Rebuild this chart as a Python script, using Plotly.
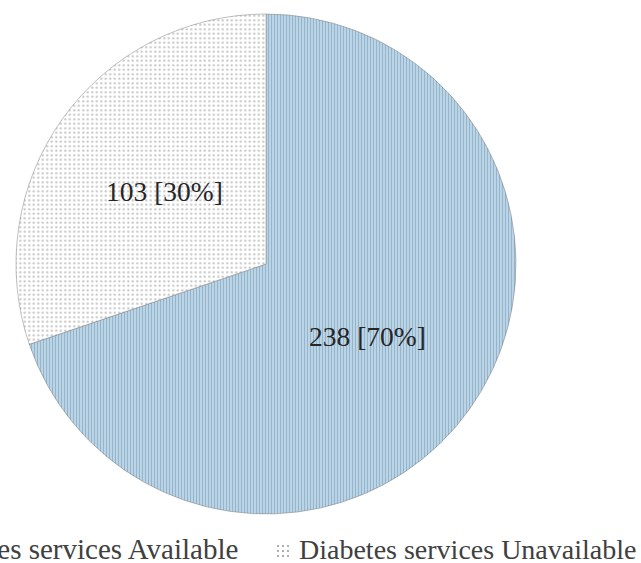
import math
import plotly.graph_objects as go

# ---- data ----
categories = ["Diabetes services Available", "Diabetes services Unavailable"]
counts = [238, 103]

# ---- layout constants (pixels) ----
W, H = 641, 563
CX, CY, R = 266, 264, 250

def px_x(x):
    return x / W

def px_y(y):
    return 1 - y / H

total = sum(counts)
pcts = [round(100 * v / total) for v in counts]
labels_txt = [f"{v} [{p}%]" for v, p in zip(counts, pcts)]

SERIF = "Liberation Serif, Times New Roman, serif"

fig = go.Figure()
fig.add_trace(go.Pie(
    labels=categories,
    values=counts,
    sort=False,
    direction="clockwise",
    rotation=0,
    textinfo="none",
    hoverinfo="label+value+percent",
    showlegend=False,
    domain=dict(x=[px_x(CX - R), px_x(CX + R)], y=[px_y(CY + R), px_y(CY - R)]),
    marker=dict(
        colors=["#c3dae9", "#ffffff"],
        line=dict(color="rgba(110,110,110,0.55)", width=0.8),
        pattern=dict(
            shape=["|", "."],
            bgcolor=["#c3dae9", "#ffffff"],
            fgcolor=["#6890b2", "#858585"],
            size=[3, 4.5],
            solidity=[0.45, 0.2],
            fillmode="overlay",
        ),
    ),
))

annotations = []
# slice labels at half radius along each slice's mid-angle
cum = 0
for v, t in zip(counts, labels_txt):
    mid = (cum + v / 2) / total * 2 * math.pi
    cum += v
    lx = CX + 0.5 * R * math.sin(mid)
    ly = CY - 0.5 * R * math.cos(mid)
    annotations.append(dict(
        x=px_x(lx), y=px_y(ly), xref="paper", yref="paper",
        text=t, showarrow=False, xanchor="center", yanchor="middle",
        font=dict(family=SERIF, size=27.5, color="#262626"),
    ))

# legend text (cropped at the left edge as in the source)
annotations.append(dict(
    x=px_x(240), y=px_y(549), xref="paper", yref="paper",
    text=categories[0], showarrow=False, xanchor="right", yanchor="middle",
    font=dict(family=SERIF, size=29, color="#404040"),
))
annotations.append(dict(
    x=px_x(297), y=px_y(549), xref="paper", yref="paper",
    text=categories[1], showarrow=False, xanchor="left", yanchor="middle",
    font=dict(family=SERIF, size=28, color="#404040"),
))

shapes = []
# dotted legend swatch
for i in range(3):
    for j in range(3):
        sx = 278 + 5 * i
        sy = 546 + 5 * j
        shapes.append(dict(
            type="circle", xref="paper", yref="paper",
            x0=px_x(sx - 0.9), x1=px_x(sx + 0.9),
            y0=px_y(sy + 0.9), y1=px_y(sy - 0.9),
            fillcolor="#8a8a8a", line=dict(width=0),
        ))

fig.update_layout(
    width=W, height=H,
    margin=dict(l=0, r=0, t=0, b=0, autoexpand=False),
    paper_bgcolor="white",
    plot_bgcolor="white",
    annotations=annotations,
    shapes=shapes,
)

fig.write_html(
    "out.html",
    config={"displayModeBar": False},
    post_script="document.body.style.margin='0';document.body.style.padding='0';document.body.style.overflow='hidden';",
)
